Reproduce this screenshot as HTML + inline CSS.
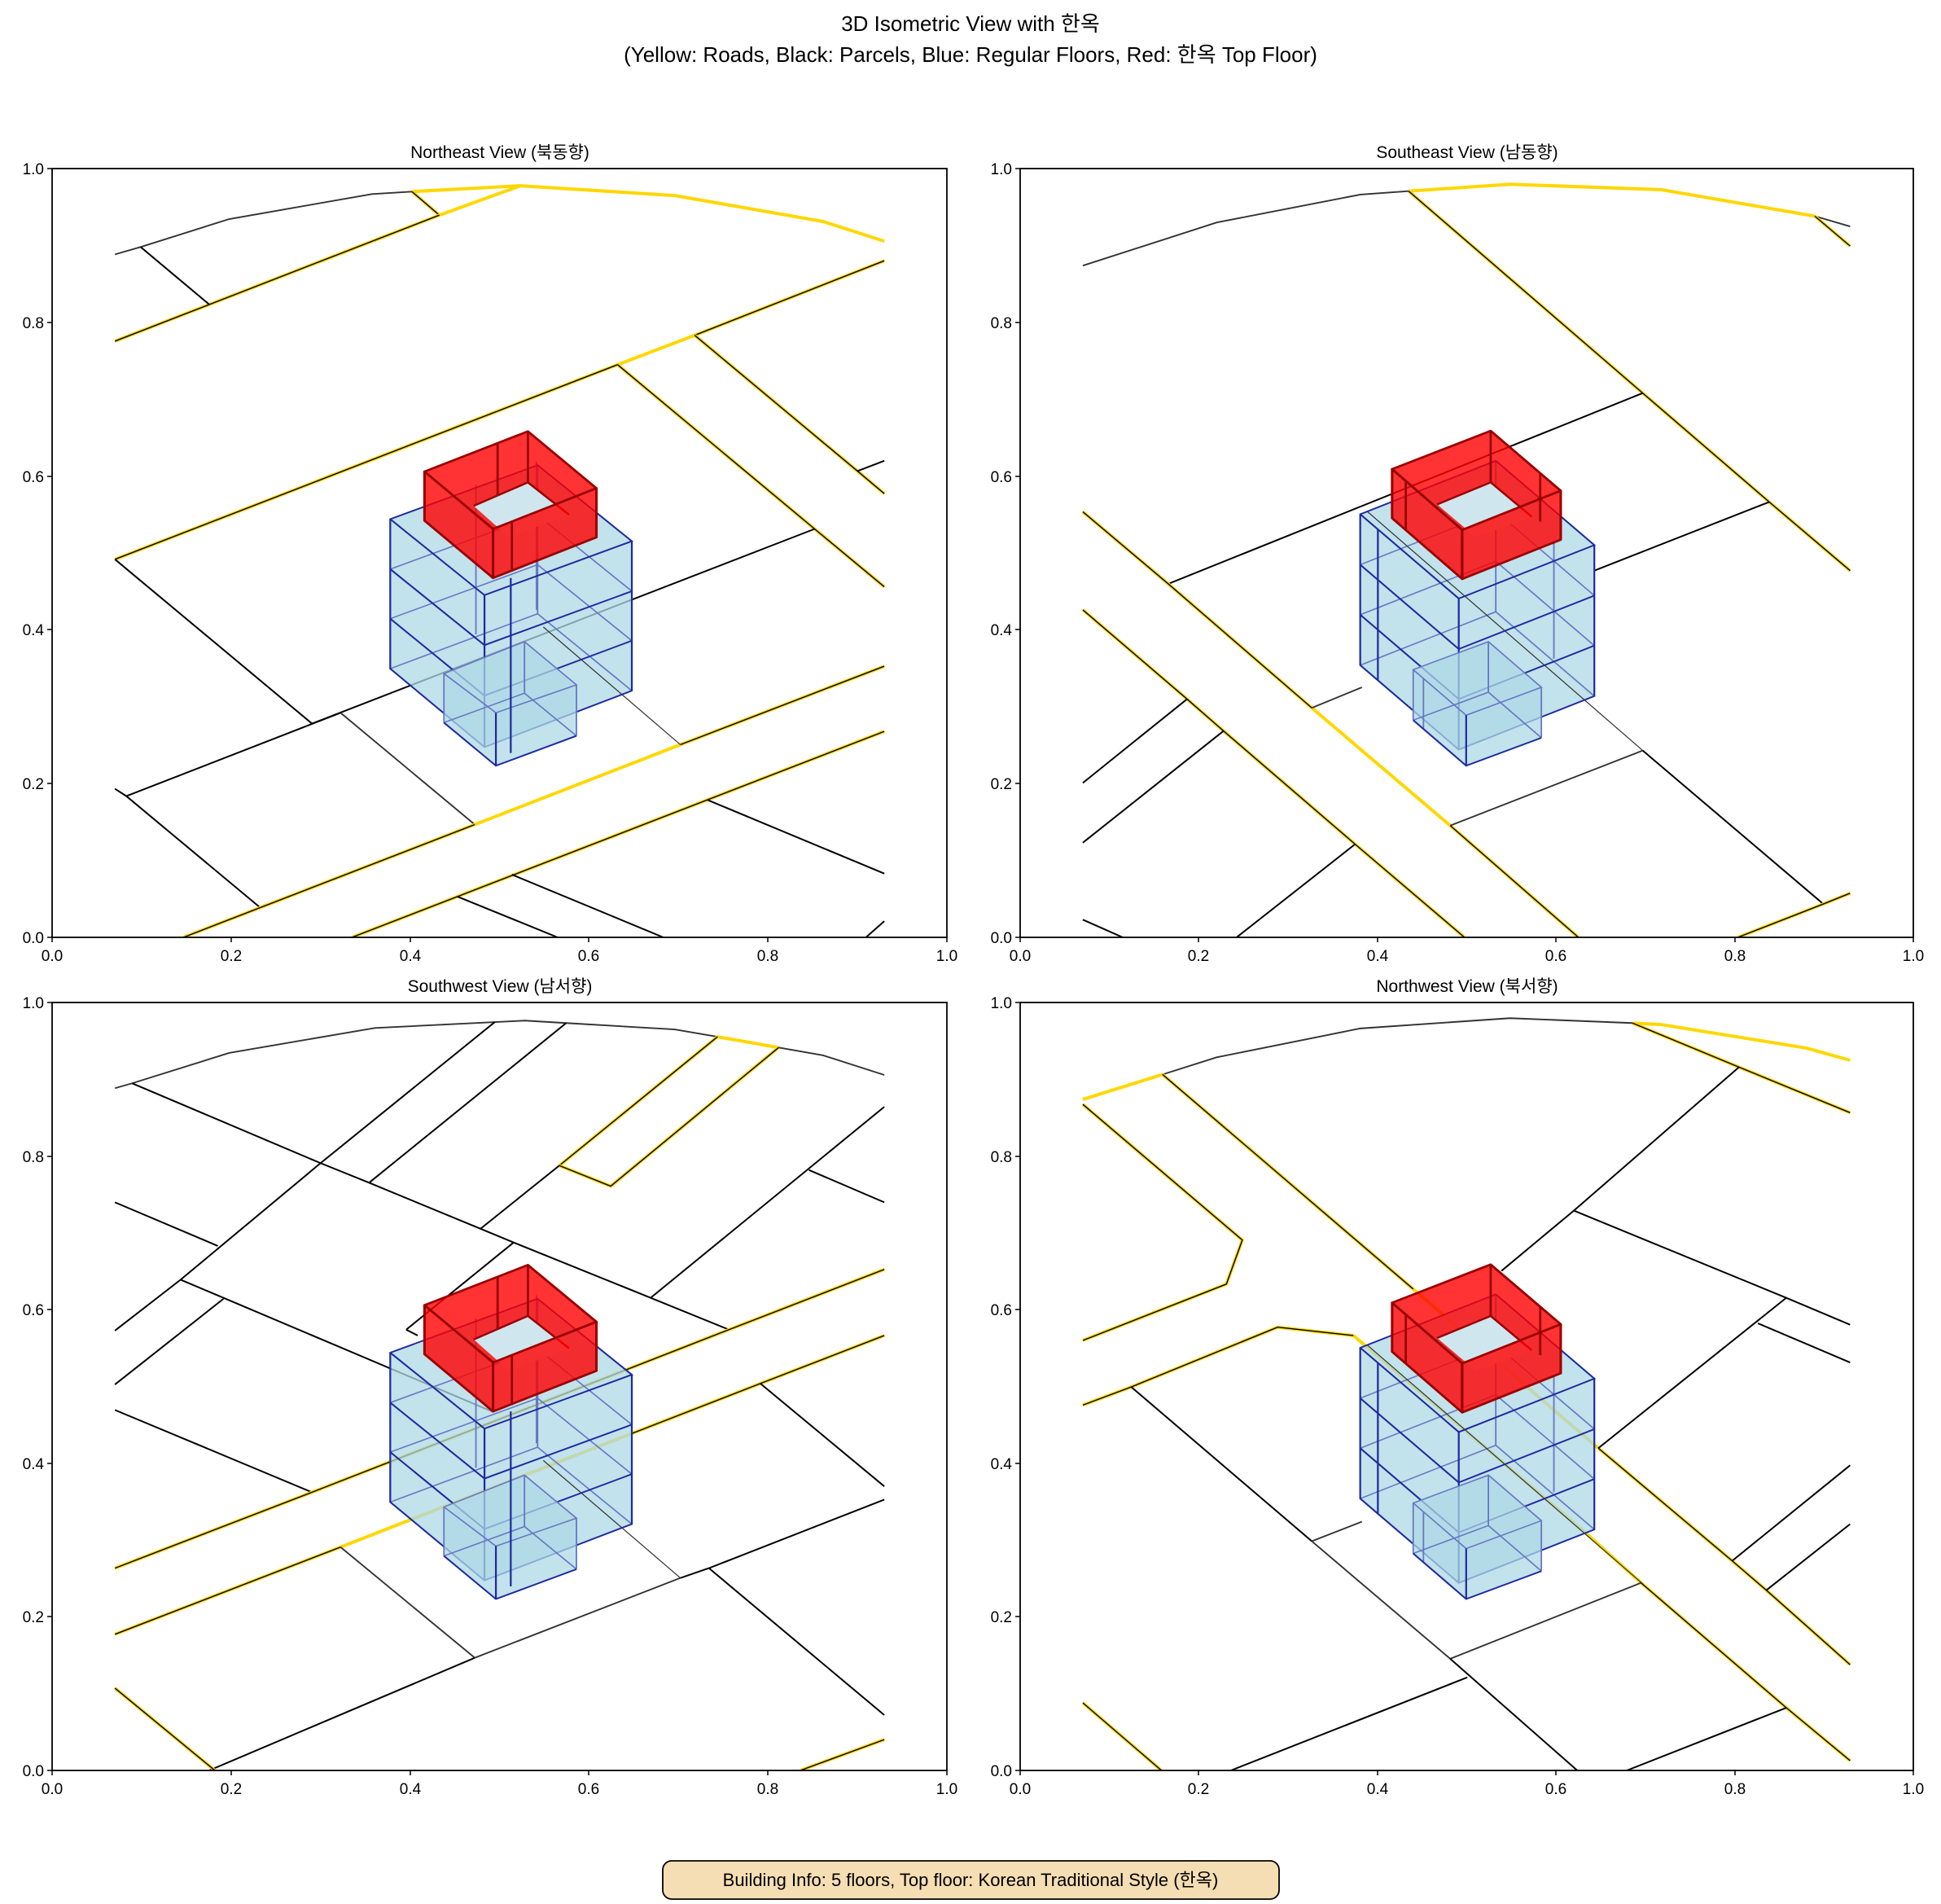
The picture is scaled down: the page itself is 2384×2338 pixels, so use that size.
<!DOCTYPE html>
<html><head><meta charset="utf-8">
<style>
html,body{margin:0;padding:0;background:#fff}
svg{display:block}
text{font-family:"Liberation Sans","Noto Sans CJK KR","NanumGothic",sans-serif;fill:#000}
.pn *{vector-effect:non-scaling-stroke}
.rd{stroke:#FFD700;stroke-width:4;fill:none;stroke-linejoin:round}
.rb{stroke:#000;stroke-width:1.4;fill:none}
.bk{stroke:#000;stroke-width:2;fill:none}
.gy{stroke:#333;stroke-width:1.9;fill:none}
.bf{fill:#add8e6;fill-opacity:.75;stroke:none}
.bd{stroke:#1f2b9e;stroke-width:3.2;fill:none}
.bl{stroke:#6678c4;stroke-width:2.6;fill:none}
.rf{fill:#ff0000;fill-opacity:.8;stroke:#9a0000;stroke-width:4.4;stroke-linejoin:round}
.rl{stroke:#9a0000;stroke-width:4;fill:none}
.hole{fill:#cfe6ef;stroke:none}
.tk{font-size:19px}
</style></head><body>
<svg width="2384" height="2338" viewBox="0 0 2384 2338" xmlns="http://www.w3.org/2000/svg">
<defs>
<g id="bldA">
 <polygon class="bf" points="592,715 850,605 1015,760 1015,1065 757,1180 592,1020"/>
 <polyline class="bl" points="850,605 850,908"/>
 <polyline class="bl" points="592,1020 850,908 1015,1065"/>
 <polyline class="bl" points="592,817 850,707 1015,862"/>
 <polyline class="bl" points="592,918 850,808 1015,963"/>
 <polyline class="bl" points="742,645 742,950"/>
 <polyline class="bl" points="848,598 848,900"/>
 <polyline class="gy" points="860,935 1100,1175"/>
 <polyline class="bd" points="592,715 757,870 1015,760 850,605 592,715 592,1020 757,1180 1015,1065 1015,760"/>
 <polyline class="bd" points="757,870 757,1180"/>
 <polyline class="bd" points="592,817 757,972 1015,862"/>
 <polyline class="bd" points="592,918 757,1075 1015,963"/>
 <polygon class="bf" points="686,1030 827,965 918,1053 918,1157 777,1218 686,1130"/>
 <polyline class="bl" points="686,1030 777,1110 918,1053 827,965 686,1030 686,1130"/>
 <polyline class="bl" points="827,965 827,1070 686,1130"/>
 <polyline class="bl" points="827,1070 918,1157"/>
 <polyline class="bl" points="918,1053 918,1157"/>
 <polyline class="bd" points="686,1130 777,1218 918,1157"/>
 <polyline class="bd" points="777,1110 777,1218"/>
 <polyline class="bd" points="803,835 803,1192"/>
 <polygon class="rf" points="652,618 833,536 953,652 772,735"/>
 <polygon class="hole" points="738,688 833,640 905,706 800,752"/>
 <polyline class="rl" points="738,688 833,640 905,706"/>
 <polyline class="rl" points="833,536 833,640"/>
 <polygon class="rf" points="652,618 772,735 772,835 652,718"/>
 <polygon class="rf" points="772,735 953,652 953,752 772,835"/>
 <polyline class="rl" points="780,560 780,665"/>
 <polyline class="rl" points="805,722 805,822"/>
</g>
<g id="bldB">
 <polygon class="bf" points="597,705 835,596 1008,768 1008,1076 770,1185 597,1013"/>
 <polyline class="bl" points="835,596 835,904"/>
 <polyline class="bl" points="597,1013 835,904 1008,1076"/>
 <polyline class="bl" points="597,808 835,699 1008,871"/>
 <polyline class="bl" points="597,910 835,801 1008,973"/>
 <polyline class="bl" points="937,760 937,1000"/>
 <polyline class="gy" points="610,700 1093,1187"/>
 <polyline class="bd" points="597,705 770,877 1008,768 835,596 597,705 597,1013 770,1185 1008,1076 1008,768"/>
 <polyline class="bd" points="770,877 770,1185"/>
 <polyline class="bd" points="597,808 770,980 1008,871"/>
 <polyline class="bd" points="597,910 770,1082 1008,973"/>
 <polyline class="bd" points="628,735 628,1045"/>
 <polygon class="bf" points="690,1022 822,965 915,1058 915,1161 783,1218 690,1125"/>
 <polyline class="bl" points="690,1022 783,1115 915,1058 822,965 690,1022 690,1125"/>
 <polyline class="bl" points="822,965 822,1068 690,1125"/>
 <polyline class="bl" points="822,1068 915,1161"/>
 <polyline class="bl" points="915,1058 915,1161"/>
 <polyline class="bl" points="708,1040 708,1143"/>
 <polyline class="bd" points="690,1125 783,1218 915,1161"/>
 <polyline class="bd" points="783,1115 783,1218"/>
 <polygon class="rf" points="653,613 826,535 949,657 776,737"/>
 <polygon class="hole" points="732,685 826,640 898,710 800,752"/>
 <polyline class="rl" points="732,685 826,640 898,710"/>
 <polyline class="rl" points="826,535 826,640"/>
 <polygon class="rf" points="653,613 776,737 776,837 653,713"/>
 <polygon class="rf" points="776,737 949,657 949,757 776,837"/>
 <polyline class="rl" points="677,638 677,738"/>
 <polyline class="rl" points="913,620 913,720"/>
</g>
</defs>

<text x="1192" y="38" font-size="26" text-anchor="middle">3D Isometric View with 한옥</text>
<text x="1192" y="76" font-size="26" text-anchor="middle">(Yellow: Roads, Black: Parcels, Blue: Regular Floors, Red: 한옥 Top Floor)</text>
<text x="614" y="194" font-size="21" text-anchor="middle">Northeast View (북동향)</text>
<text x="1802" y="194" font-size="21" text-anchor="middle">Southeast View (남동향)</text>
<text x="614" y="1218" font-size="21" text-anchor="middle">Southwest View (남서향)</text>
<text x="1802" y="1218" font-size="21" text-anchor="middle">Northwest View (북서향)</text>

<svg class="pn" x="64" y="207" width="1100" height="944" viewBox="0 0 1568 1568" preserveAspectRatio="none">
 <polyline class="gy" points="110,175 155,160 310,103 560,52 630,47"/>
 <polyline class="rd" points="630,47 820,35 1090,55 1350,108 1457,148"/>
 <polyline class="rd" points="630,47 678,95"/><polyline class="rb" points="630,47 678,95"/>
 <polyline class="rd" points="110,352 678,95 820,35"/><polyline class="rb" points="110,352 678,95"/>
 <polyline class="bk" points="155,160 275,277"/>
 <polyline class="rd" points="110,797 990,400 1125,340 1457,188"/><polyline class="rb" points="110,797 990,400"/><polyline class="rb" points="1125,340 1457,188"/>
 <polyline class="rd" points="990,400 1335,735 1457,853"/><polyline class="rb" points="990,400 1335,735 1457,853"/>
 <polyline class="rd" points="1125,340 1410,617 1457,663"/><polyline class="rb" points="1125,340 1410,617 1457,663"/>
 <polyline class="bk" points="455,1132 1335,735"/>
 <polyline class="bk" points="1410,617 1457,596"/>
 <polyline class="bk" points="110,797 455,1132"/>
 <polyline class="bk" points="130,1280 505,1110"/>
 <polyline class="gy" points="505,1110 740,1338"/>
 <polyline class="bk" points="110,1265 130,1280 365,1508"/>
 <polyline class="rd" points="230,1568 740,1338 1100,1175 1457,1015"/><polyline class="rb" points="230,1568 740,1338"/><polyline class="rb" points="1100,1175 1457,1015"/>
 <polyline class="rd" points="525,1568 1457,1148"/><polyline class="rb" points="525,1568 1457,1148"/>
 <polyline class="bk" points="710,1485 885,1568"/>
 <polyline class="bk" points="805,1440 1070,1568"/>
 <polyline class="bk" points="1148,1288 1457,1438"/>
 <polyline class="bk" points="1425,1568 1457,1535"/>
 <use href="#bldA"/>
</svg>

<svg class="pn" x="1253" y="207" width="1097" height="944" viewBox="0 0 1568 1568" preserveAspectRatio="none">
 <polyline class="gy" points="110,198 345,110 597,53 682,46"/>
 <polyline class="rd" points="682,46 860,32 1125,43 1395,97"/>
 <polyline class="gy" points="1395,97 1457,118"/>
 <polyline class="rd" points="682,46 1093,458 1315,680 1457,820"/><polyline class="rb" points="682,46 1093,458 1315,680 1457,820"/>
 <polyline class="rd" points="1395,97 1457,158"/><polyline class="rb" points="1395,97 1457,158"/>
 <polyline class="bk" points="260,847 1093,458"/>
 <polyline class="bk" points="1008,820 1315,680"/>
 <polyline class="rd" points="110,700 260,847 512,1100 755,1340 980,1568"/><polyline class="rb" points="110,700 260,847 512,1100"/><polyline class="rb" points="755,1340 980,1568"/>
 <polyline class="rd" points="110,900 293,1082 357,1147 588,1378 780,1568"/><polyline class="rb" points="110,900 293,1082 357,1147 588,1378 780,1568"/>
 <polyline class="bk" points="110,1253 293,1082"/>
 <polyline class="bk" points="110,1375 357,1147"/>
 <polyline class="bk" points="380,1568 588,1378"/>
 <polyline class="bk" points="110,1532 180,1568"/>
 <polyline class="gy" points="512,1100 600,1058"/>
 <polyline class="gy" points="755,1340 1093,1187"/>
 <polyline class="bk" points="1093,1187 1410,1500"/>
 <polyline class="rd" points="1260,1568 1410,1500 1457,1478"/><polyline class="rb" points="1260,1568 1410,1500 1457,1478"/>
 <use href="#bldB"/>
</svg>

<svg class="pn" x="64" y="1231" width="1100" height="943" viewBox="0 0 1568 1568" preserveAspectRatio="none">
 <polyline class="gy" points="110,175 140,165 310,103 565,52 775,40 828,37 900,42 1090,55 1165,70"/>
 <polyline class="rd" points="1165,70 1272,92"/>
 <polyline class="gy" points="1272,92 1350,108 1457,148"/>
 <polyline class="bk" points="140,165 470,328 555,368 750,462 808,490 1048,603 1185,668"/>
 <polyline class="bk" points="110,408 290,497"/>
 <polyline class="bk" points="110,670 225,566 470,328 775,40"/>
 <polyline class="bk" points="555,368 900,42"/>
 <polyline class="rd" points="888,333 1165,70"/><polyline class="rb" points="888,333 1165,70"/>
 <polyline class="rd" points="888,333 978,375 1272,92"/><polyline class="rb" points="888,333 978,375 1272,92"/>
 <polyline class="bk" points="750,462 888,333"/>
 <polyline class="bk" points="110,780 300,605"/>
 <polyline class="bk" points="225,566 770,835"/>
 <polyline class="bk" points="620,668 808,490"/>
 <polyline class="bk" points="620,668 640,680"/>
 <polyline class="bk" points="1048,603 1457,213"/>
 <polyline class="bk" points="1325,342 1457,408"/>
 <polyline class="bk" points="110,832 455,1000"/>
 <polyline class="rd" points="110,1155 455,1000 1185,668 1457,545"/><polyline class="rb" points="110,1155 455,1000 1185,668 1457,545"/>
 <polyline class="rd" points="110,1290 505,1112 630,1055 1015,880 1240,778 1457,680"/><polyline class="rb" points="110,1290 505,1112"/><polyline class="rb" points="1015,880 1240,778 1457,680"/>
 <polyline class="bk" points="1240,778 1457,988"/>
 <polyline class="gy" points="505,1112 740,1338"/>
 <polyline class="gy" points="740,1338 1100,1175"/>
 <polyline class="bk" points="1100,1175 1150,1155 1457,1015"/>
 <polyline class="bk" points="275,1568 740,1338"/>
 <polyline class="bk" points="1150,1155 1457,1455"/>
 <polyline class="rd" points="110,1400 285,1568"/><polyline class="rb" points="110,1400 285,1568"/>
 <polyline class="rd" points="1310,1568 1457,1505"/><polyline class="rb" points="1310,1568 1457,1505"/>
 <use href="#bldA"/>
</svg>

<svg class="pn" x="1253" y="1231" width="1097" height="943" viewBox="0 0 1568 1568" preserveAspectRatio="none">
 <polyline class="rd" points="110,198 250,147"/>
 <polyline class="gy" points="250,147 345,112 597,53 860,32 1075,42"/>
 <polyline class="rd" points="1075,42 1125,45 1380,93 1457,118"/>
 <polyline class="rd" points="1075,42 1262,132 1457,225"/><polyline class="rb" points="1075,42 1262,132 1457,225"/>
 <polyline class="bk" points="1262,132 972,425 845,548"/>
 <polyline class="rd" points="110,208 390,485 362,575 110,690"/><polyline class="rb" points="110,208 390,485 362,575 110,690"/>
 <polyline class="rd" points="250,147 690,585 1015,910 1250,1140 1310,1200 1457,1352"/><polyline class="rb" points="250,147 690,585"/><polyline class="rb" points="1015,910 1250,1140 1310,1200 1457,1352"/>
 <polyline class="rd" points="110,822 195,785 452,663 585,680 990,1080 1090,1185 1345,1440 1457,1548"/><polyline class="rb" points="110,822 195,785 452,663 585,680"/><polyline class="rb" points="1090,1185 1345,1440 1457,1548"/>
 <polyline class="bk" points="972,425 1345,603 1457,658"/>
 <polyline class="bk" points="1295,655 1457,735"/>
 <polyline class="bk" points="1345,603 1015,910"/>
 <polyline class="bk" points="1250,1140 1457,945"/>
 <polyline class="bk" points="1310,1200 1457,1065"/>
 <polyline class="bk" points="195,785 512,1100"/>
 <polyline class="gy" points="512,1100 755,1340"/>
 <polyline class="gy" points="512,1100 600,1060"/>
 <polyline class="gy" points="755,1340 1090,1185"/>
 <polyline class="bk" points="755,1340 978,1568"/>
 <polyline class="bk" points="370,1568 785,1378"/>
 <polyline class="bk" points="1065,1568 1345,1440"/>
 <polyline class="rd" points="110,1430 248,1568"/><polyline class="rb" points="110,1430 248,1568"/>
 <use href="#bldB"/>
</svg>

<g fill="none" stroke="#000" stroke-width="1.8">
 <rect x="64" y="207" width="1099" height="944"/>
 <rect x="1253" y="207" width="1097" height="944"/>
 <rect x="64" y="1231" width="1099" height="943"/>
 <rect x="1253" y="1231" width="1097" height="943"/>
</g>
<g stroke="#000" stroke-width="1.5">
 <path d="M58,207H64M58,396H64M58,585H64M58,773H64M58,962H64M58,1151H64"/>
 <path d="M1247,207H1253M1247,396H1253M1247,585H1253M1247,773H1253M1247,962H1253M1247,1151H1253"/>
 <path d="M58,1231H64M58,1420H64M58,1608H64M58,1797H64M58,1985H64M58,2174H64"/>
 <path d="M1247,1231H1253M1247,1420H1253M1247,1608H1253M1247,1797H1253M1247,1985H1253M1247,2174H1253"/>
 <path d="M64,1151V1157M284,1151V1157M504,1151V1157M723,1151V1157M943,1151V1157M1163,1151V1157"/>
 <path d="M1253,1151V1157M1472,1151V1157M1692,1151V1157M1911,1151V1157M2131,1151V1157M2350,1151V1157"/>
 <path d="M64,2174V2180M284,2174V2180M504,2174V2180M723,2174V2180M943,2174V2180M1163,2174V2180"/>
 <path d="M1253,2174V2180M1472,2174V2180M1692,2174V2180M1911,2174V2180M2131,2174V2180M2350,2174V2180"/>
</g>
<g class="tk" text-anchor="end">
 <text x="54" y="214">1.0</text><text x="54" y="403">0.8</text><text x="54" y="592">0.6</text><text x="54" y="780">0.4</text><text x="54" y="969">0.2</text><text x="54" y="1158">0.0</text>
 <text x="1243" y="214">1.0</text><text x="1243" y="403">0.8</text><text x="1243" y="592">0.6</text><text x="1243" y="780">0.4</text><text x="1243" y="969">0.2</text><text x="1243" y="1158">0.0</text>
 <text x="54" y="1238">1.0</text><text x="54" y="1427">0.8</text><text x="54" y="1615">0.6</text><text x="54" y="1804">0.4</text><text x="54" y="1992">0.2</text><text x="54" y="2181">0.0</text>
 <text x="1243" y="1238">1.0</text><text x="1243" y="1427">0.8</text><text x="1243" y="1615">0.6</text><text x="1243" y="1804">0.4</text><text x="1243" y="1992">0.2</text><text x="1243" y="2181">0.0</text>
</g>
<g class="tk" text-anchor="middle">
 <text x="64" y="1180">0.0</text><text x="284" y="1180">0.2</text><text x="504" y="1180">0.4</text><text x="723" y="1180">0.6</text><text x="943" y="1180">0.8</text><text x="1163" y="1180">1.0</text>
 <text x="1253" y="1180">0.0</text><text x="1472" y="1180">0.2</text><text x="1692" y="1180">0.4</text><text x="1911" y="1180">0.6</text><text x="2131" y="1180">0.8</text><text x="2350" y="1180">1.0</text>
 <text x="64" y="2203">0.0</text><text x="284" y="2203">0.2</text><text x="504" y="2203">0.4</text><text x="723" y="2203">0.6</text><text x="943" y="2203">0.8</text><text x="1163" y="2203">1.0</text>
 <text x="1253" y="2203">0.0</text><text x="1472" y="2203">0.2</text><text x="1692" y="2203">0.4</text><text x="1911" y="2203">0.6</text><text x="2131" y="2203">0.8</text><text x="2350" y="2203">1.0</text>
</g>

<rect x="814" y="2285" width="757" height="47" rx="11" fill="#f5deb3" stroke="#000" stroke-width="1.8"/>
<text x="1192" y="2316" font-size="22" text-anchor="middle">Building Info: 5 floors, Top floor: Korean Traditional Style (한옥)</text>
</svg>
</body></html>
